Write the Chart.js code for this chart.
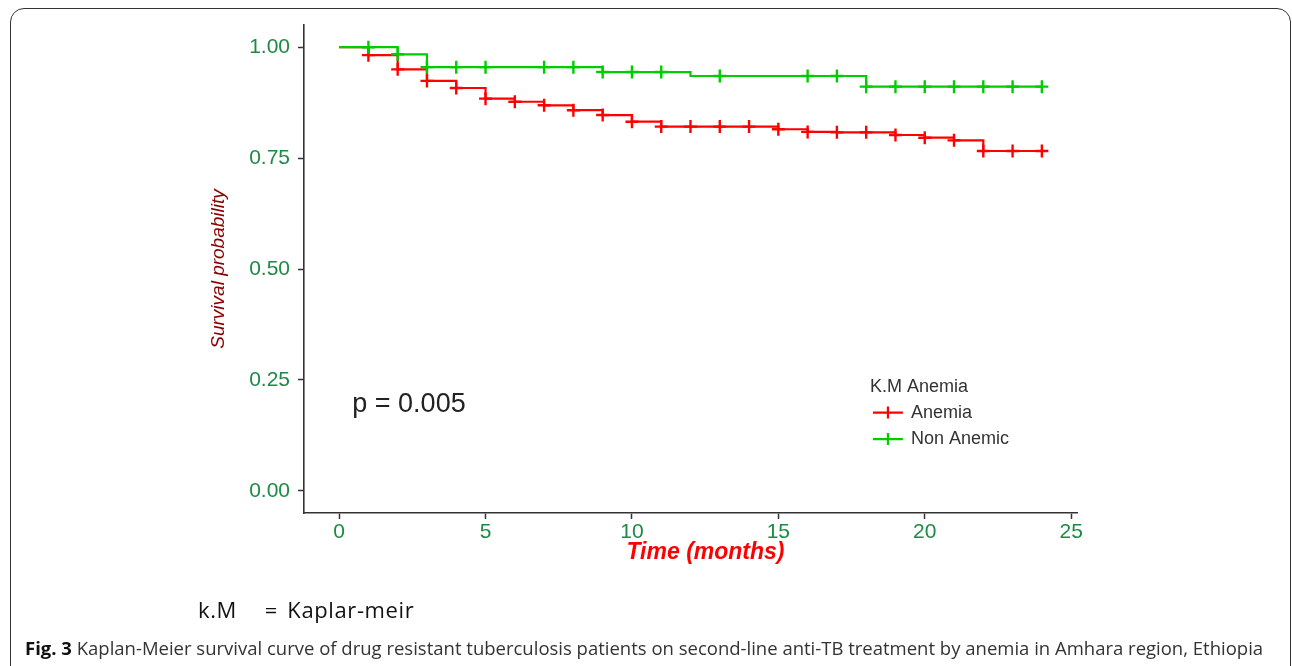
<!DOCTYPE html>
<html>
<head>
<meta charset="utf-8">
<script src="https://cdn.jsdelivr.net/npm/chart.js@4.4.0/dist/chart.umd.min.js"></script>
<style>
  html, body { margin:0; padding:0; width:1292px; height:666px; overflow:hidden; background:#fff; }
  #frame { position:absolute; left:10px; top:8px; width:1281px; height:690px; border:1.6px solid #333; border-radius:14px; box-sizing:border-box; }
  #wrap { position:absolute; left:0; top:0; width:1292px; height:666px; }
  #note { position:absolute; left:198px; top:594px; font-family:'Open Sans', sans-serif; font-size:22px; letter-spacing:0.6px; word-spacing:3px; color:#111; white-space:pre; }
  #caption { position:absolute; left:25px; top:635px; font-family:'Open Sans', sans-serif; font-size:18.5px; color:#333; white-space:nowrap; }
  #caption b { color:#111; }
</style>
</head>
<body>
<div id="frame"></div>
<div id="wrap"><canvas id="c" width="1292" height="666"></canvas></div>
<div id="note">k.M   = Kaplar-meir</div>
<div id="caption"><b>Fig. 3</b> Kaplan-Meier survival curve of drug resistant tuberculosis patients on second-line anti-TB treatment by anemia in Amhara region, Ethiopia</div>
<script>
// ---- data ----
const months = [0,1,2,3,4,5,6,7,8,9,10,11,12,13,14,15,16,17,18,19,20,21,22,23,24];
const anemiaSurv = [1.000,0.982,0.950,0.924,0.908,0.884,0.877,0.869,0.858,0.847,0.832,0.821,0.821,0.821,0.821,0.815,0.809,0.808,0.808,0.802,0.796,0.790,0.766,0.766,0.766];
const nonAnemicSurv = [1.000,1.000,0.984,0.955,0.955,0.955,0.955,0.955,0.955,0.944,0.944,0.944,0.935,0.935,0.935,0.935,0.935,0.935,0.911,0.911,0.911,0.911,0.911,0.911,0.911];
const anemiaCensored = [0,1,1,1,1,1,1,1,1,1,1,1,1,1,1,1,1,1,1,1,1,1,1,1,1];
const nonAnemicCensored = [0,1,1,1,1,1,0,1,1,1,1,1,0,1,0,0,1,1,1,1,1,1,1,1,1];
const seriesNames = ['Anemia', 'Non Anemic'];
const seriesColors = ['#FF0000', '#00CD00'];
const xTicks = [0,5,10,15,20,25];
const yTicks = [0,0.25,0.5,0.75,1];
const legendTitle = 'K.M Anemia';
const pValueLabel = 'p = 0.005';
const pValuePos = [0.45, 0.195];
const xTitle = 'Time (months)';
const yTitle = 'Survival probability';

const tickColor = '#1e8a45';
const axisColor = '#333';

function toPoints(vals) { return months.map((m, i) => ({ x: m, y: vals[i] })); }

const kmPlugin = {
  id: 'kmExtras',
  afterDraw(chart) {
    const ctx = chart.ctx;
    const xs = chart.scales.x, ys = chart.scales.y, ca = chart.chartArea;
    ctx.save();
    // p-value
    ctx.fillStyle = '#222';
    ctx.font = '27px "Liberation Sans", Arial, sans-serif';
    ctx.textAlign = 'left';
    ctx.textBaseline = 'middle';
    ctx.fillText(pValueLabel, xs.getPixelForValue(pValuePos[0]), ys.getPixelForValue(pValuePos[1]));
    // x title
    ctx.fillStyle = '#FF0000';
    ctx.font = 'italic bold 23px "Liberation Sans", Arial, sans-serif';
    ctx.textAlign = 'center';
    ctx.fillText(xTitle, (ca.left + ca.right) / 2 + 15, ca.bottom + 40);
    // legend
    const lx = ca.left + (ca.right - ca.left) * 0.736;
    const ly = ca.top + (ca.bottom - ca.top) * 0.741;
    ctx.fillStyle = '#333';
    ctx.font = '18px "Liberation Sans", Arial, sans-serif';
    ctx.textAlign = 'left';
    ctx.fillText(legendTitle, lx - 3, ly);
    chart.data.datasets.forEach((ds, i) => {
      const y = ly + 26 + i * 26.5;
      ctx.strokeStyle = ds.borderColor;
      ctx.lineWidth = 2.2;
      ctx.beginPath();
      ctx.moveTo(lx, y); ctx.lineTo(lx + 30, y);
      ctx.moveTo(lx + 15, y - 6); ctx.lineTo(lx + 15, y + 6);
      ctx.stroke();
      ctx.fillStyle = '#333';
      ctx.fillText(ds.label, lx + 38, y);
    });
    ctx.restore();
  }
};

new Chart(document.getElementById('c'), {
  type: 'line',
  data: {
    datasets: [
      {
        label: seriesNames[0],
        data: toPoints(anemiaSurv),
        borderColor: seriesColors[0],
        backgroundColor: seriesColors[0],
        borderWidth: 2.2,
        stepped: 'before',
        fill: false,
        pointStyle: 'cross',
        pointRadius: c => anemiaCensored[c.dataIndex] ? 6.5 : 0,
        pointHoverRadius: c => anemiaCensored[c.dataIndex] ? 6.5 : 0,
        pointBorderWidth: 2.4,
        pointBorderColor: seriesColors[0],
        order: 1
      },
      {
        label: seriesNames[1],
        data: toPoints(nonAnemicSurv),
        borderColor: seriesColors[1],
        backgroundColor: seriesColors[1],
        borderWidth: 2.2,
        stepped: 'before',
        fill: false,
        pointStyle: 'cross',
        pointRadius: c => nonAnemicCensored[c.dataIndex] ? 6.5 : 0,
        pointHoverRadius: c => nonAnemicCensored[c.dataIndex] ? 6.5 : 0,
        pointBorderWidth: 2.4,
        pointBorderColor: seriesColors[1],
        order: 0
      }
    ]
  },
  options: {
    responsive: false,
    animation: false,
    events: [],
    layout: { padding: { left: 200, top: 25, right: 215, bottom: 98 } },
    plugins: { legend: { display: false }, tooltip: { enabled: false } },
    scales: {
      x: {
        type: 'linear',
        min: -1.2, max: 25.2,
        afterBuildTicks: s => { s.ticks = xTicks.map(v => ({ value: v })); },
        afterFit: s => { s.height = 55; },
        ticks: { color: tickColor, font: { family: '"Liberation Sans", Arial, sans-serif', size: 21 }, padding: 1, maxRotation: 0, autoSkip: false },
        grid: { display: true, drawOnChartArea: false, drawTicks: true, tickLength: 6, tickColor: axisColor, tickWidth: 1.5 },
        border: { display: true, color: axisColor, width: 1.6 }
      },
      y: {
        type: 'linear',
        min: -0.05, max: 1.05,
        afterBuildTicks: s => { s.ticks = yTicks.map(v => ({ value: v })); },
        afterFit: s => { s.width = 104; },
        ticks: { color: tickColor, font: { family: '"Liberation Sans", Arial, sans-serif', size: 21 }, padding: 8, callback: v => v.toFixed(2) },
        grid: { display: true, drawOnChartArea: false, drawTicks: true, tickLength: 6, tickColor: axisColor, tickWidth: 1.5 },
        border: { display: true, color: axisColor, width: 1.6 },
        title: { display: true, text: yTitle, color: '#8B0000', font: { family: '"Liberation Sans", Arial, sans-serif', size: 19, style: 'italic' }, padding: { top: 7 } }
      }
    }
  },
  plugins: [kmPlugin]
});
</script>
</body>
</html>
